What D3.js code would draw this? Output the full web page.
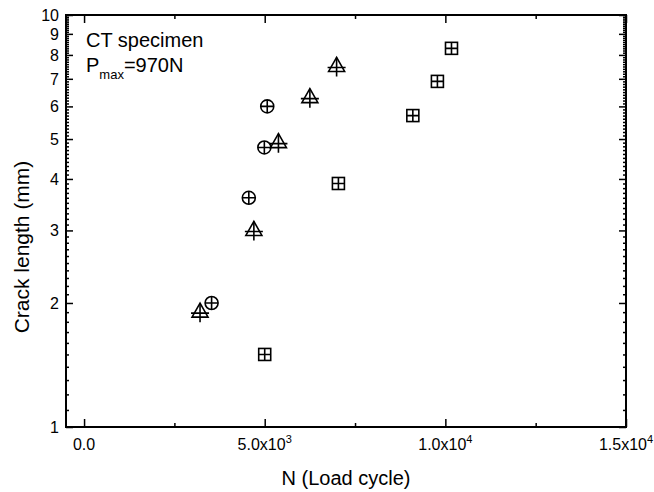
<!DOCTYPE html>
<html>
<head>
<meta charset="utf-8">
<script src="https://cdn.jsdelivr.net/npm/d3@7"></script>
<style>
  body { margin: 0; background: #fff; }
  svg text { font-family: "Liberation Sans", Arial, sans-serif; fill: #000; }
  .frame { fill: none; stroke: #000; stroke-width: 2; }
  .tick line { stroke: #000; stroke-width: 1.5; }
  .domain { display: none; }
  .mark { fill: none; stroke: #000; stroke-width: 1.6; }
</style>
</head>
<body>
<div id="chart"></div>
<script>
const width = 654;
const height = 492;

// crack length data
const circleN = [3530, 4560, 4990, 5070];
const circleA = [2.0, 3.6, 4.77, 6.0];

const triangleN = [3210, 4700, 5380, 6250, 6990];
const triangleA = [1.9, 3.0, 4.9, 6.3, 7.5];

const squareN = [5000, 7040, 9100, 9780, 10170];
const squareA = [1.5, 3.9, 5.7, 6.9, 8.3];

// axes
const xMajor = [0, 5000, 10000, 15000];
const xMinor = [2500, 7500, 12500];
const xLabels = ['0.0', '5.0x10', '1.0x10', '1.5x10'];
const xExp = ['', '3', '4', '4'];
const yMajor = [1, 2, 3, 4, 5, 6, 7, 8, 9, 10];
const yMinor = d3.range(11, 100).filter(v => v % 10 !== 0).map(v => v / 10);

const plotLeft = 66, plotRight = 626, plotTop = 15, plotBottom = 427;

let svg = d3.select('#chart').append('svg')
    .attr('width', width)
    .attr('height', height);

let x = d3.scaleLinear().domain([-500, 15000]).range([plotLeft, plotRight]);
let y = d3.scaleLog().domain([1, 10]).range([plotBottom, plotTop]);

// bottom / top
svg.append('g')
    .attr('transform', 'translate(0,' + plotBottom + ')')
    .call(d3.axisBottom(x).tickValues(xMajor).tickSize(-8).tickFormat(''));
svg.append('g')
    .attr('transform', 'translate(0,' + plotBottom + ')')
    .call(d3.axisBottom(x).tickValues(xMinor).tickSize(-4).tickFormat(''));
svg.append('g')
    .attr('transform', 'translate(0,' + plotTop + ')')
    .call(d3.axisTop(x).tickValues(xMajor).tickSize(-8).tickFormat(''));
svg.append('g')
    .attr('transform', 'translate(0,' + plotTop + ')')
    .call(d3.axisTop(x).tickValues(xMinor).tickSize(-4).tickFormat(''));

// left / right
svg.append('g')
    .attr('transform', 'translate(' + plotLeft + ',0)')
    .call(d3.axisLeft(y).tickValues(yMajor).tickSize(-7).tickFormat(''));
svg.append('g')
    .attr('transform', 'translate(' + plotLeft + ',0)')
    .call(d3.axisLeft(y).tickValues(yMinor).tickSize(-3).tickFormat(''));
svg.append('g')
    .attr('transform', 'translate(' + plotRight + ',0)')
    .call(d3.axisRight(y).tickValues(yMajor).tickSize(-7).tickFormat(''));
svg.append('g')
    .attr('transform', 'translate(' + plotRight + ',0)')
    .call(d3.axisRight(y).tickValues(yMinor).tickSize(-3).tickFormat(''));

svg.selectAll('.tick line').attr('stroke-width', 1.3);

svg.append('rect')
    .attr('class', 'frame')
    .attr('x', plotLeft)
    .attr('y', plotTop)
    .attr('width', plotRight - plotLeft)
    .attr('height', plotBottom - plotTop);

// tick labels
svg.selectAll('.ylab')
    .data(yMajor)
    .enter().append('text')
    .attr('class', 'ylab')
    .attr('x', plotLeft - 7)
    .attr('y', d => y(d) + 6)
    .attr('text-anchor', 'end')
    .attr('font-size', 16)
    .text(d => d);

let xl = svg.selectAll('.xlab')
    .data(xMajor)
    .enter().append('text')
    .attr('class', 'xlab')
    .attr('x', d => x(d))
    .attr('y', 450)
    .attr('text-anchor', 'middle')
    .attr('font-size', 16);
xl.append('tspan').text((d, i) => xLabels[i]);
xl.append('tspan')
    .attr('dy', -7)
    .attr('font-size', 11)
    .text((d, i) => xExp[i]);

// titles
svg.append('text')
    .attr('x', (plotLeft + plotRight) / 2)
    .attr('y', 485)
    .attr('text-anchor', 'middle')
    .attr('font-size', 20)
    .text('N (Load cycle)');

svg.append('text')
    .attr('transform', 'translate(29,' + 247 + ') rotate(-90)')
    .attr('text-anchor', 'middle')
    .attr('font-size', 21)
    .text('Crack length (mm)');

svg.append('text')
    .attr('x', 86)
    .attr('y', 47)
    .attr('font-size', 20)
    .text('CT specimen');

let p = svg.append('text')
    .attr('x', 86)
    .attr('y', 72)
    .attr('font-size', 20);
p.append('tspan').text('P');
p.append('tspan').attr('dy', 7).attr('font-size', 13).text('max');
p.append('tspan').attr('dy', -7).text('=970N');

// markers
let circles = svg.selectAll('.circ')
    .data(circleN.map((n, i) => [n, circleA[i]]))
    .enter().append('g')
    .attr('class', 'circ')
    .attr('transform', d => 'translate(' + x(d[0]) + ',' + y(d[1]) + ')');
circles.append('circle').attr('class', 'mark').attr('r', 6.5);
circles.append('path').attr('class', 'mark').attr('d', 'M-6.5,0H6.5M0,-6.5V6.5');

let tris = svg.selectAll('.tri')
    .data(triangleN.map((n, i) => [n, triangleA[i]]))
    .enter().append('g')
    .attr('class', 'tri')
    .attr('transform', d => 'translate(' + x(d[0]) + ',' + y(d[1]) + ')');
tris.append('path').attr('class', 'mark').attr('d', 'M0,-9L-8,5H8Z');
tris.append('path').attr('class', 'mark').attr('d', 'M-9,1H9M0,-9V10');

let squares = svg.selectAll('.sq')
    .data(squareN.map((n, i) => [n, squareA[i]]))
    .enter().append('g')
    .attr('class', 'sq')
    .attr('transform', d => 'translate(' + x(d[0]) + ',' + y(d[1]) + ')');
squares.append('rect').attr('class', 'mark')
    .attr('x', -6).attr('y', -6).attr('width', 12).attr('height', 12);
squares.append('path').attr('class', 'mark').attr('d', 'M-6,0H6M0,-6V6');
</script>
</body>
</html>
